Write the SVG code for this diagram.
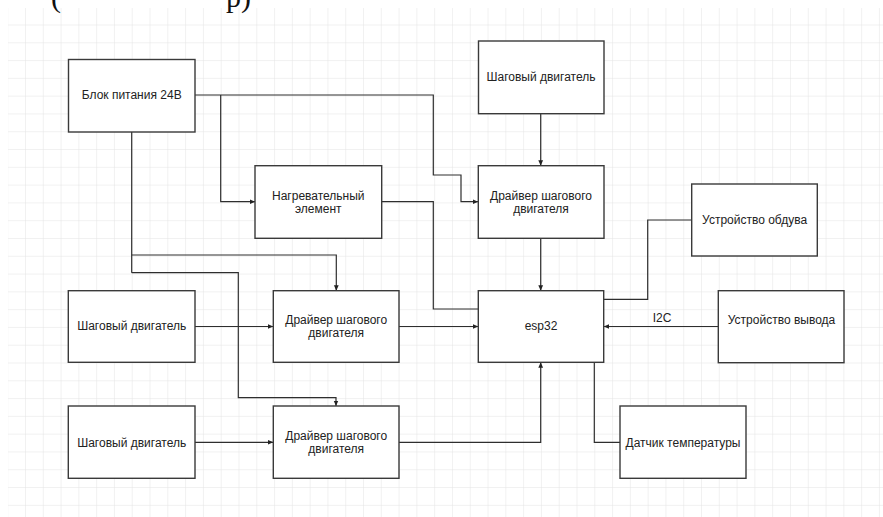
<svg xmlns="http://www.w3.org/2000/svg" width="883" height="517" viewBox="0 0 883 517">
<defs>
<pattern id="grid" patternUnits="userSpaceOnUse" x="25" y="24.5" width="17.79" height="17.79">
<path d="M0,0 H17.79 M0,0 V17.79" fill="none" stroke="#e3e3e3" stroke-width="1"/>
</pattern>
<marker id="arr" markerUnits="userSpaceOnUse" markerWidth="6" markerHeight="6" refX="5.5" refY="3" orient="auto">
<path d="M0,0.6 L5.5,3 L0,5.4 z" fill="#222"/>
</marker>
<style>
.box{fill:#ffffff;stroke:#3a3a3a;stroke-width:1.4}
.t{font-family:"Liberation Sans",Arial,sans-serif;font-size:12px;fill:#222;text-anchor:middle}
.c{fill:none;stroke:#2e2e2e;stroke-width:1.2}
.a{marker-end:url(#arr)}
.top{font-family:"Liberation Serif","Times New Roman",serif;font-size:30px;fill:#111}
</style>
</defs>
<rect x="0" y="0" width="883" height="517" fill="#ffffff"/>
<rect x="8" y="8" width="875" height="509" fill="url(#grid)"/>
<text class="top" x="51" y="7">(</text>
<text class="top" x="251" y="7" text-anchor="end">р)</text>

<g id="connectors">
<path class="c a" d="M195,95 H433.3 V175 H461 V201.7 H478"/>
<path class="c a" d="M220.7,95 V201.7 H255"/>
<path class="c a" d="M540.7,113.7 V165.7"/>
<path class="c" d="M381.7,201.7 H433.3 V309 H478.3"/>
<path class="c a" d="M540.7,238.3 V290.7"/>
<path class="c" d="M691.7,220 H647.7 V299.3 H603.7"/>
<path class="c a" d="M718.3,326.5 H603.7"/>
<text class="t" x="662" y="322">I2C</text>
<path class="c" d="M594.3,362.3 V442.3 H620"/>
<path class="c a" d="M399,442.3 H540.7 V362.3"/>
<path class="c a" d="M195,326.5 H273.3"/>
<path class="c a" d="M399,326.5 H478.3"/>
<path class="c a" d="M195,442.3 H273.3"/>
<path class="c" d="M131.7,131.7 V272.7"/>
<path class="c a" d="M131.7,255 H336.3 V290.7"/>
<path class="c a" d="M131.7,272.7 H238.3 V397.7 H336 V406"/>
</g>

<g id="power">
<rect class="box" x="68.5" y="59.5" width="126.5" height="72.5"/>
<text class="t" x="131.7" y="99">Блок питания 24В</text>
</g>
<g id="motor_top">
<rect class="box" x="478.5" y="41" width="125.5" height="72.7"/>
<text class="t" x="541" y="81">Шаговый двигатель</text>
</g>
<g id="heater">
<rect class="box" x="255" y="165.7" width="126.7" height="72.6"/>
<text class="t" x="318.3" y="199.5">Нагревательный</text>
<text class="t" x="318.3" y="212.5">элемент</text>
</g>
<g id="driver_top">
<rect class="box" x="478.3" y="165.7" width="125.7" height="72.6"/>
<text class="t" x="541" y="199.5">Драйвер шагового</text>
<text class="t" x="541" y="212.5">двигателя</text>
</g>
<g id="blower">
<rect class="box" x="691.7" y="184" width="125.6" height="72"/>
<text class="t" x="754.6" y="223.5">Устройство обдува</text>
</g>
<g id="esp32">
<rect class="box" x="478.3" y="290.7" width="125.4" height="71.6"/>
<text class="t" x="541" y="330">esp32</text>
</g>
<g id="output">
<rect class="box" x="718.3" y="290.7" width="125.7" height="72"/>
<text class="t" x="781.5" y="323.5">Устройство вывода</text>
</g>
<g id="motor2">
<rect class="box" x="68.3" y="290.7" width="126.7" height="71.6"/>
<text class="t" x="131.7" y="330">Шаговый двигатель</text>
</g>
<g id="driver2">
<rect class="box" x="273.3" y="290.7" width="125.7" height="71.6"/>
<text class="t" x="336.2" y="323.8">Драйвер шагового</text>
<text class="t" x="336.2" y="336.8">двигателя</text>
</g>
<g id="motor3">
<rect class="box" x="68.3" y="406" width="126.7" height="72.3"/>
<text class="t" x="131.7" y="446.5">Шаговый двигатель</text>
</g>
<g id="driver3">
<rect class="box" x="273.3" y="406" width="125.7" height="72.3"/>
<text class="t" x="336.2" y="439.5">Драйвер шагового</text>
<text class="t" x="336.2" y="452.5">двигателя</text>
</g>
<g id="sensor">
<rect class="box" x="620" y="406" width="126" height="72.3"/>
<text class="t" x="683" y="446.5">Датчик температуры</text>
</g>
</svg>
